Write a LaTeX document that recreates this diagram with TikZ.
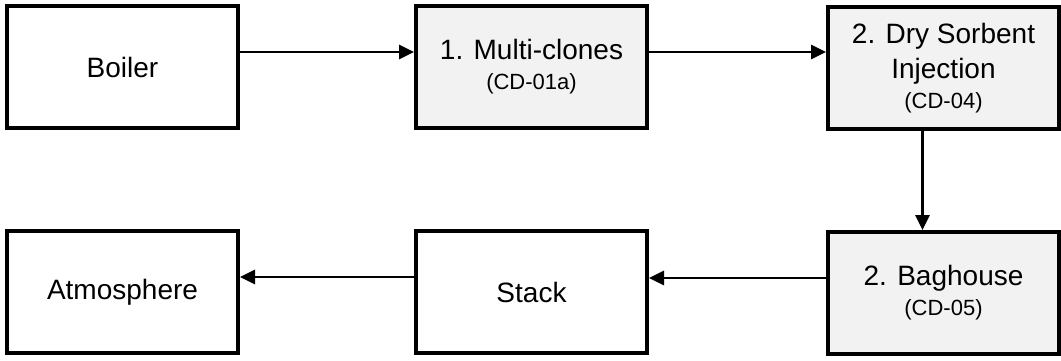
\documentclass[tikz,border=0pt]{standalone}
\usepackage{fontspec}
\setmainfont{Liberation Sans}
\usetikzlibrary{arrows.meta}
\newcommand{\subf}{\fontsize{22}{27}\selectfont}
\begin{document}
\begin{tikzpicture}[x=1pt,y=-1pt,
  box/.style={draw=black,line width=4pt,minimum width=231pt,minimum height=122pt,
    inner sep=0pt,align=center,font=\fontsize{28}{35}\selectfont},
  cdbox/.style={box,fill=black!5},
  flow/.style={line width=2.8pt,-{Triangle[length=15pt,width=14pt]}}]
\useasboundingbox (0,0) rectangle (1061,360);
\node[box]   (boiler) at (122.5,67) {Boiler};
\node[cdbox] (multi)  at (531.5,67) {1. Multi-clones\\[-5pt]{\subf (CD-01a)}};
\node[cdbox] (dry)    at (943.5,68) {2. Dry Sorbent\\Injection\\[-5pt]{\subf (CD-04)}};
\node[box]   (atm)    at (122.5,292) {Atmosphere};
\node[box]   (stack)  at (531.5,292) {Stack};
\node[cdbox] (bag)    at (943.5,293) {2. Baghouse\\[-5pt]{\subf (CD-05)}};
\draw[flow] ([yshift=15pt]boiler.east) -- ([yshift=15pt]multi.west);
\draw[flow] ([yshift=15pt]multi.east) -- ([yshift=15pt]multi.east -| dry.west);
\draw[flow] ([xshift=-21pt]dry.south) -- ([xshift=-21pt]bag.north);
\draw[flow] ([yshift=15pt]bag.west) -- ([yshift=15pt]bag.west -| stack.east);
\draw[flow] ([yshift=15pt]stack.west) -- ([yshift=15pt]atm.east);
\end{tikzpicture}
\end{document}
